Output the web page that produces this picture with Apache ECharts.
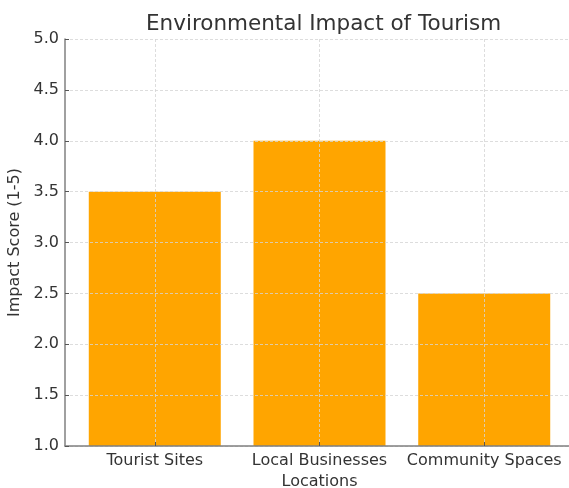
<!DOCTYPE html>
<html>
<head>
<meta charset="utf-8">
<script src="https://cdn.jsdelivr.net/npm/echarts@6/dist/echarts.min.js"></script>
<style>html,body{margin:0;padding:0;background:#fff;}#c{width:569px;height:488px;}</style>
</head>
<body>
<div id="c"></div>
<script>
const categories = ["Tourist Sites", "Local Businesses", "Community Spaces"];
const impactScores = [3.5, 4.0, 2.5];
const yTicks = [1.0, 1.5, 2.0, 2.5, 3.0, 3.5, 4.0, 4.5, 5.0];
const positions = categories.map((c, i) => i);

const chart = echarts.init(document.getElementById('c'), null, {renderer: 'canvas'});
const font = 'DejaVu Sans';
const gridLine = {show: true, lineStyle: {color: '#d4d4d4', width: 0.8, type: [3, 2]}};
chart.setOption({
  animation: false,
  backgroundColor: '#fff',
  title: {
    text: 'Environmental Impact of Tourism',
    left: 141, top: 8,
    textStyle: {fontFamily: font, fontSize: 21.5, fontWeight: 'normal', color: '#333'}
  },
  grid: {left: 65, right: -5, top: 39, bottom: 42, containLabel: false, outerBoundsMode: 'none'},
  xAxis: {
    type: 'value',
    min: -0.545, max: 2.545,
    z: 3,
    name: 'Locations',
    nameLocation: 'middle',
    nameGap: 28,
    nameTextStyle: {fontFamily: font, fontSize: 16, color: '#333'},
    axisLine: {show: true, onZero: false, lineStyle: {color: '#808080', width: 1.5}},
    axisTick: {show: true, inside: true, length: 4, customValues: positions, lineStyle: {color: '#555'}},
    axisLabel: {
      customValues: positions,
      formatter: v => categories[Math.round(v)],
      fontFamily: font, fontSize: 16, color: '#333', margin: 7
    },
    splitLine: gridLine
  },
  yAxis: {
    type: 'value',
    min: yTicks[0], max: yTicks[yTicks.length - 1], interval: 0.5,
    z: 3,
    name: 'Impact Score (1-5)',
    nameLocation: 'middle',
    nameGap: 21,
    nameTextStyle: {fontFamily: font, fontSize: 16, color: '#333'},
    axisLine: {show: true, onZero: false, lineStyle: {color: '#808080', width: 1.5}},
    axisTick: {show: true, inside: true, length: 4, lineStyle: {color: '#555'}},
    axisLabel: {formatter: v => v.toFixed(1), fontFamily: font, fontSize: 16, color: '#333', margin: 6},
    splitLine: gridLine
  },
  series: [{
    type: 'bar',
    data: positions.map(i => [i, impactScores[i]]),
    barWidth: 132,
    itemStyle: {color: '#FFA500'},
    z: 2
  }]
});
</script>
</body>
</html>
